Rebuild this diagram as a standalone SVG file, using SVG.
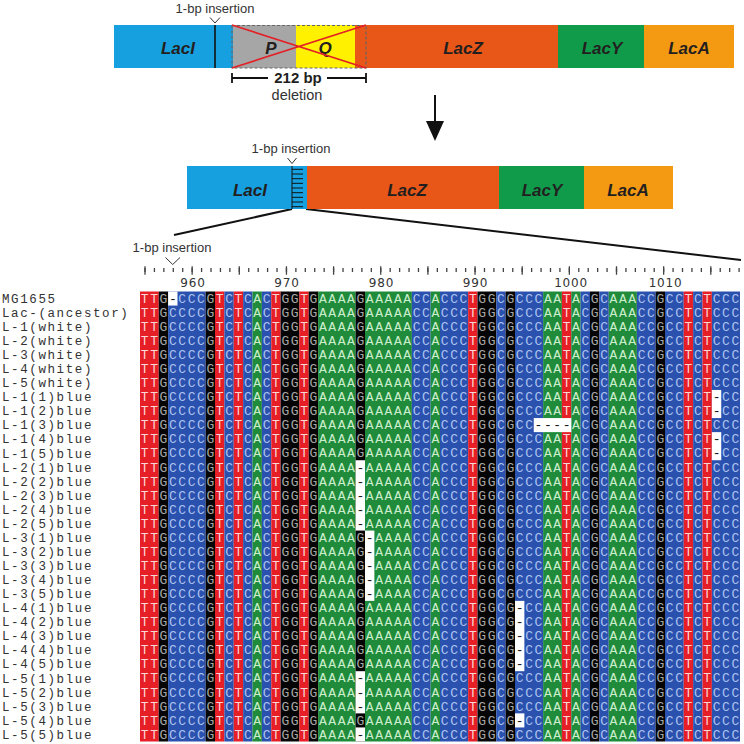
<svg xmlns="http://www.w3.org/2000/svg" width="744" height="744" viewBox="0 0 744 744">
<style>
.gene{font-family:"Liberation Sans",Arial,sans-serif;font-size:17px;font-weight:bold;font-style:italic;fill:#231f20;text-anchor:middle}
.note{font-family:"Liberation Sans",Arial,sans-serif;font-size:13px;fill:#333;text-anchor:middle}
.lbl{font-family:"Liberation Mono","Courier New",monospace;font-size:12.5px;letter-spacing:1.6px;fill:#333}
.sq{font-family:"Liberation Mono","Courier New",monospace;font-size:13px;text-anchor:middle}
.num{font-family:"DejaVu Sans",Verdana,sans-serif;font-size:12px;fill:#333;text-anchor:middle;letter-spacing:0.8px}
.lT{fill:#fbd6d6}.lC{fill:#aec3ef}.lA{fill:#cdeecd}.lG{fill:#a8a8a8}
.bT{fill:#e61f27}.bC{fill:#2a51ae}.bA{fill:#1f8b3b}.bG{fill:#050505}
.gap{fill:#fff}
.dash{font-family:"Liberation Mono","Courier New",monospace;font-size:13px;fill:#111;text-anchor:middle}
.mk{fill:none;stroke:#333;stroke-width:1}
.conn{fill:none;stroke:#111;stroke-width:2}
</style>
<defs>
<text id="cT" class="sq lT" x="0 0 0 0 0 0 0 0 0 0 0 0 0 0 0 0 0 0 0 0 0 0 0 0 0 0 0 0 0 0 0 0" y="11.3 25.36 39.43 53.49 67.55 81.61 95.68 109.74 123.8 137.86 151.93 165.99 180.05 194.11 208.18 222.24 236.3 250.36 264.43 278.49 292.55 306.61 320.68 334.74 348.8 362.86 376.93 390.99 405.05 419.11 433.18 447.24">TTTTTTTTTTTTTTTTTTTTTTTTTTTTTTTT</text>
<text id="cC" class="sq lC" x="0 0 0 0 0 0 0 0 0 0 0 0 0 0 0 0 0 0 0 0 0 0 0 0 0 0 0 0 0 0 0 0" y="11.3 25.36 39.43 53.49 67.55 81.61 95.68 109.74 123.8 137.86 151.93 165.99 180.05 194.11 208.18 222.24 236.3 250.36 264.43 278.49 292.55 306.61 320.68 334.74 348.8 362.86 376.93 390.99 405.05 419.11 433.18 447.24">CCCCCCCCCCCCCCCCCCCCCCCCCCCCCCCC</text>
<text id="cA" class="sq lA" x="0 0 0 0 0 0 0 0 0 0 0 0 0 0 0 0 0 0 0 0 0 0 0 0 0 0 0 0 0 0 0 0" y="11.3 25.36 39.43 53.49 67.55 81.61 95.68 109.74 123.8 137.86 151.93 165.99 180.05 194.11 208.18 222.24 236.3 250.36 264.43 278.49 292.55 306.61 320.68 334.74 348.8 362.86 376.93 390.99 405.05 419.11 433.18 447.24">AAAAAAAAAAAAAAAAAAAAAAAAAAAAAAAA</text>
<text id="cG" class="sq lG" x="0 0 0 0 0 0 0 0 0 0 0 0 0 0 0 0 0 0 0 0 0 0 0 0 0 0 0 0 0 0 0 0" y="11.3 25.36 39.43 53.49 67.55 81.61 95.68 109.74 123.8 137.86 151.93 165.99 180.05 194.11 208.18 222.24 236.3 250.36 264.43 278.49 292.55 306.61 320.68 334.74 348.8 362.86 376.93 390.99 405.05 419.11 433.18 447.24">GGGGGGGGGGGGGGGGGGGGGGGGGGGGGGGG</text>
</defs>
<rect width="744" height="744" fill="#fff"/>

<!-- top operon -->
<g id="top-operon">
<g id="top-lacI"><rect x="114" y="25" width="120" height="43" fill="#17a0e0"/><text class="gene" x="178" y="54">LacI</text></g>
<g id="top-P"><rect x="233" y="25" width="63" height="43" fill="#a6a6a6"/><text class="gene" x="271" y="54">P</text></g>
<g id="top-Q"><rect x="296" y="25" width="60" height="43" fill="#fff100"/><text class="gene" x="325" y="54">Q</text></g>
<g id="top-lacZ"><rect x="355" y="25" width="203" height="43" fill="#e85717"/><text class="gene" x="463" y="54">LacZ</text></g>
<g id="top-lacY"><rect x="558" y="25" width="86" height="43" fill="#0f9b4a"/><text class="gene" x="602" y="54">LacY</text></g>
<g id="top-lacA"><rect x="644" y="25" width="90" height="43" fill="#f39a12"/><text class="gene" x="689" y="54">LacA</text></g>
<rect x="232" y="25.5" width="134" height="42.5" fill="none" stroke="#666" stroke-width="1.2" stroke-dasharray="3 2"/>
<path d="M232 25L366 68M366 25L232 68" stroke="#e32026" stroke-width="1.6" fill="none"/>
<line x1="215" y1="25" x2="215" y2="68" stroke="#111" stroke-width="1.6"/>
<text class="note" x="215" y="13">1-bp insertion</text>
<polyline class="mk" points="210,17.5 215,23 220,17.5"/>
<path d="M232 73v10M232 78h36M327 78h39M366 73v10" stroke="#111" stroke-width="1.8" fill="none"/>
<text x="298" y="83" font-family="Liberation Sans,Arial,sans-serif" font-size="15" font-weight="bold" fill="#231f20" text-anchor="middle">212 bp</text>
<text x="297" y="99.5" font-family="Liberation Sans,Arial,sans-serif" font-size="14.5" fill="#333" text-anchor="middle">deletion</text>
</g>

<!-- arrow -->
<g id="connectors">
<line class="conn" x1="435" y1="95" x2="435" y2="123"/>
<polygon points="426,121 444,121 435,141" fill="#111"/>
<path class="conn" d="M292 209L174 235M306 209L741 260"/>
</g>

<!-- middle operon -->
<g id="mid-operon">
<g id="mid-lacI"><rect x="187" y="166" width="121" height="43" fill="#17a0e0"/><text class="gene" x="250" y="196">LacI</text></g>
<g id="mid-lacZ"><rect x="307" y="166" width="192" height="43" fill="#e85717"/><text class="gene" x="407" y="196">LacZ</text></g>
<g id="mid-lacY"><rect x="499" y="166" width="85" height="43" fill="#0f9b4a"/><text class="gene" x="542" y="196">LacY</text></g>
<g id="mid-lacA"><rect x="584" y="166" width="89" height="43" fill="#f39a12"/><text class="gene" x="628" y="196">LacA</text></g>
<path d="M292 166v43M292 169.3h11M292 174h11M292 178.7h11M292 183.3h11M292 188h11M292 192.7h11M292 197.3h11M292 202h11M292 206.7h11" stroke="#111" stroke-width="1" fill="none"/>
<text class="note" x="291" y="153">1-bp insertion</text>
<polyline class="mk" points="287.5,158 292,163.5 296.5,158"/>
</g>

<!-- ruler -->
<g id="ruler">
<text class="note" x="172" y="252">1-bp insertion</text>
<polyline class="mk" points="165.5,257.5 172.7,264.5 180,257.5"/>
<line x1="144.35" y1="270" x2="741" y2="270" stroke="#444" stroke-width="4" stroke-dasharray="1.3 8.13"/>
<line x1="144.35" y1="270.5" x2="741" y2="270.5" stroke="#444" stroke-width="8.5" stroke-dasharray="1.3 45.85"/>
<text class="num" x="193" y="287">960</text>
<text class="num" x="287" y="287">970</text>
<text class="num" x="381.5" y="287">980</text>
<text class="num" x="475.5" y="287">990</text>
<text class="num" x="571" y="287">1000</text>
<text class="num" x="665.5" y="287">1010</text>
</g>

<!-- labels -->
<g id="labels">
<text class="lbl" x="2" y="302.8">MG1655</text>
<text class="lbl" x="2" y="316.9">Lac-(ancestor)</text>
<text class="lbl" x="2" y="330.9">L-1(white)</text>
<text class="lbl" x="2" y="345">L-2(white)</text>
<text class="lbl" x="2" y="359">L-3(white)</text>
<text class="lbl" x="2" y="373.1">L-4(white)</text>
<text class="lbl" x="2" y="387.2">L-5(white)</text>
<text class="lbl" x="2" y="401.2">L-1(1)blue</text>
<text class="lbl" x="2" y="415.3">L-1(2)blue</text>
<text class="lbl" x="2" y="429.4">L-1(3)blue</text>
<text class="lbl" x="2" y="443.4">L-1(4)blue</text>
<text class="lbl" x="2" y="457.5">L-1(5)blue</text>
<text class="lbl" x="2" y="471.5">L-2(1)blue</text>
<text class="lbl" x="2" y="485.6">L-2(2)blue</text>
<text class="lbl" x="2" y="499.7">L-2(3)blue</text>
<text class="lbl" x="2" y="513.7">L-2(4)blue</text>
<text class="lbl" x="2" y="527.8">L-2(5)blue</text>
<text class="lbl" x="2" y="541.9">L-3(1)blue</text>
<text class="lbl" x="2" y="555.9">L-3(2)blue</text>
<text class="lbl" x="2" y="570">L-3(3)blue</text>
<text class="lbl" x="2" y="584">L-3(4)blue</text>
<text class="lbl" x="2" y="598.1">L-3(5)blue</text>
<text class="lbl" x="2" y="612.2">L-4(1)blue</text>
<text class="lbl" x="2" y="626.2">L-4(2)blue</text>
<text class="lbl" x="2" y="640.3">L-4(3)blue</text>
<text class="lbl" x="2" y="654.3">L-4(4)blue</text>
<text class="lbl" x="2" y="668.4">L-4(5)blue</text>
<text class="lbl" x="2" y="682.5">L-5(1)blue</text>
<text class="lbl" x="2" y="696.5">L-5(2)blue</text>
<text class="lbl" x="2" y="710.6">L-5(3)blue</text>
<text class="lbl" x="2" y="724.7">L-5(4)blue</text>
<text class="lbl" x="2" y="738.7">L-5(5)blue</text>
</g>

<!-- alignment -->
<g id="alignment" transform="translate(140,291.5)">
<g id="col-bg">
<rect class="bT" x="0" y="0" width="18.75" height="450"/>
<rect class="bG" x="18.75" y="0" width="9.375" height="450"/>
<rect class="bC" x="28.125" y="0" width="37.5" height="450"/>
<rect class="bG" x="65.625" y="0" width="9.375" height="450"/>
<rect class="bT" x="75" y="0" width="9.375" height="450"/>
<rect class="bC" x="84.375" y="0" width="9.375" height="450"/>
<rect class="bT" x="93.75" y="0" width="9.375" height="450"/>
<rect class="bC" x="103.125" y="0" width="9.375" height="450"/>
<rect class="bA" x="112.5" y="0" width="9.375" height="450"/>
<rect class="bC" x="121.875" y="0" width="9.375" height="450"/>
<rect class="bT" x="131.25" y="0" width="9.375" height="450"/>
<rect class="bG" x="140.625" y="0" width="18.75" height="450"/>
<rect class="bT" x="159.375" y="0" width="9.375" height="450"/>
<rect class="bG" x="168.75" y="0" width="9.375" height="450"/>
<rect class="bA" x="178.125" y="0" width="37.5" height="450"/>
<rect class="bG" x="215.625" y="0" width="9.375" height="450"/>
<rect class="bA" x="225" y="0" width="46.875" height="450"/>
<rect class="bC" x="271.875" y="0" width="18.75" height="450"/>
<rect class="bA" x="290.625" y="0" width="9.375" height="450"/>
<rect class="bC" x="300" y="0" width="28.125" height="450"/>
<rect class="bT" x="328.125" y="0" width="9.375" height="450"/>
<rect class="bG" x="337.5" y="0" width="18.75" height="450"/>
<rect class="bC" x="356.25" y="0" width="9.375" height="450"/>
<rect class="bG" x="365.625" y="0" width="9.375" height="450"/>
<rect class="bC" x="375" y="0" width="28.125" height="450"/>
<rect class="bA" x="403.125" y="0" width="18.75" height="450"/>
<rect class="bT" x="421.875" y="0" width="9.375" height="450"/>
<rect class="bA" x="431.25" y="0" width="9.375" height="450"/>
<rect class="bC" x="440.625" y="0" width="9.375" height="450"/>
<rect class="bG" x="450" y="0" width="9.375" height="450"/>
<rect class="bC" x="459.375" y="0" width="9.375" height="450"/>
<rect class="bA" x="468.75" y="0" width="28.125" height="450"/>
<rect class="bC" x="496.875" y="0" width="18.75" height="450"/>
<rect class="bG" x="515.625" y="0" width="9.375" height="450"/>
<rect class="bC" x="525" y="0" width="18.75" height="450"/>
<rect class="bT" x="543.75" y="0" width="9.375" height="450"/>
<rect class="bC" x="553.125" y="0" width="9.375" height="450"/>
<rect class="bT" x="562.5" y="0" width="9.375" height="450"/>
<rect class="bC" x="571.875" y="0" width="28.125" height="450"/>
</g>
<g id="col-letters">
<use href="#cT" x="4.69"/><use href="#cT" x="14.06"/><use href="#cG" x="23.44"/><use href="#cC" x="32.81"/>
<use href="#cC" x="42.19"/><use href="#cC" x="51.56"/><use href="#cC" x="60.94"/><use href="#cG" x="70.31"/>
<use href="#cT" x="79.69"/><use href="#cC" x="89.06"/><use href="#cT" x="98.44"/><use href="#cC" x="107.81"/>
<use href="#cA" x="117.19"/><use href="#cC" x="126.56"/><use href="#cT" x="135.94"/><use href="#cG" x="145.31"/>
<use href="#cG" x="154.69"/><use href="#cT" x="164.06"/><use href="#cG" x="173.44"/><use href="#cA" x="182.81"/>
<use href="#cA" x="192.19"/><use href="#cA" x="201.56"/><use href="#cA" x="210.94"/><use href="#cG" x="220.31"/>
<use href="#cA" x="229.69"/><use href="#cA" x="239.06"/><use href="#cA" x="248.44"/><use href="#cA" x="257.81"/>
<use href="#cA" x="267.19"/><use href="#cC" x="276.56"/><use href="#cC" x="285.94"/><use href="#cA" x="295.31"/>
<use href="#cC" x="304.69"/><use href="#cC" x="314.06"/><use href="#cC" x="323.44"/><use href="#cT" x="332.81"/>
<use href="#cG" x="342.19"/><use href="#cG" x="351.56"/><use href="#cC" x="360.94"/><use href="#cG" x="370.31"/>
<use href="#cC" x="379.69"/><use href="#cC" x="389.06"/><use href="#cC" x="398.44"/><use href="#cA" x="407.81"/>
<use href="#cA" x="417.19"/><use href="#cT" x="426.56"/><use href="#cA" x="435.94"/><use href="#cC" x="445.31"/>
<use href="#cG" x="454.69"/><use href="#cC" x="464.06"/><use href="#cA" x="473.44"/><use href="#cA" x="482.81"/>
<use href="#cA" x="492.19"/><use href="#cC" x="501.56"/><use href="#cC" x="510.94"/><use href="#cG" x="520.31"/>
<use href="#cC" x="529.69"/><use href="#cC" x="539.06"/><use href="#cT" x="548.44"/><use href="#cC" x="557.81"/>
<use href="#cT" x="567.19"/><use href="#cC" x="576.56"/><use href="#cC" x="585.94"/><use href="#cC" x="595.31"/>
</g>
<g id="gaps">
<rect class="gap" x="28.125" y="0" width="9.375" height="14.06"/>
<rect class="gap" x="571.875" y="98.44" width="9.375" height="28.12"/>
<rect class="gap" x="393.75" y="126.56" width="37.5" height="14.06"/>
<rect class="gap" x="571.875" y="140.63" width="9.375" height="28.12"/>
<rect class="gap" x="215.625" y="168.75" width="9.375" height="70.31"/>
<rect class="gap" x="225" y="239.06" width="9.375" height="70.31"/>
<rect class="gap" x="375" y="309.38" width="9.375" height="70.31"/>
<rect class="gap" x="215.625" y="379.69" width="9.375" height="42.19"/>
<rect class="gap" x="375" y="421.88" width="9.375" height="14.06"/>
<rect class="gap" x="215.625" y="435.94" width="9.375" height="14.06"/>
<text class="dash" x="32.81" y="11.3">-</text>
<text class="dash" x="576.56 576.56 576.56 576.56" y="109.74 123.8 151.93 165.99">----</text>
<text class="dash" x="398.44 407.81 417.19 426.56" y="137.86 137.86 137.86 137.86">----</text>
<text class="dash" x="220.31 220.31 220.31 220.31 220.31 220.31 220.31 220.31 220.31" y="180.05 194.11 208.18 222.24 236.3 390.99 405.05 419.11 447.24">---------</text>
<text class="dash" x="229.69 229.69 229.69 229.69 229.69" y="250.36 264.43 278.49 292.55 306.61">-----</text>
<text class="dash" x="379.69 379.69 379.69 379.69 379.69 379.69" y="320.68 334.74 348.8 362.86 376.93 433.18">------</text>
</g>
</g>
</svg>
